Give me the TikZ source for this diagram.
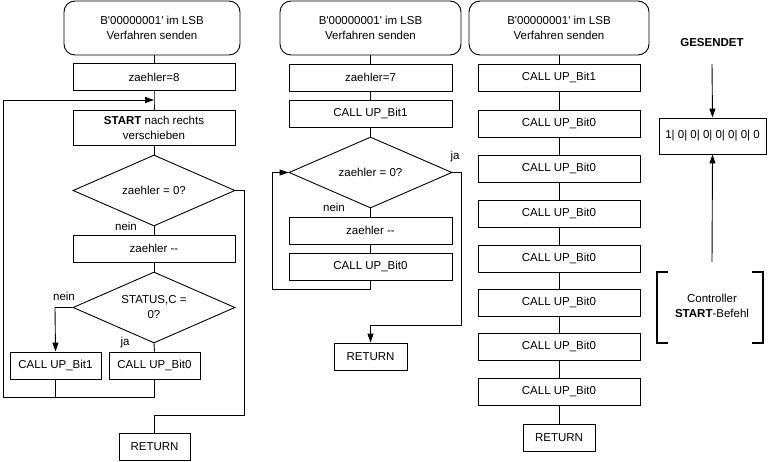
\documentclass[tikz,border=0pt]{standalone}
\usepackage{fontspec}
\setmainfont{Liberation Sans}
\usetikzlibrary{shapes.geometric,arrows.meta}
\begin{document}
\begin{tikzpicture}[x=1pt,y=-1pt,
  every node/.style={font=\fontsize{11.5}{15}\selectfont},
  lw/.style={line width=0.9pt},
  term/.style={draw,lw,rounded corners=11pt,minimum height=54pt,align=center,inner sep=0pt},
  box/.style={draw,lw,minimum width=162pt,minimum height=27pt,align=center,inner sep=0pt},
  dia/.style={draw,lw,diamond,aspect=2.3,minimum width=162pt,minimum height=71pt,align=center,inner sep=0pt},
  lbl/.style={inner sep=0pt},
  conn/.style={lw},
  arr/.style={lw,-{Triangle[length=9pt,width=6pt]}},
  brk/.style={line width=2pt}
]
\useasboundingbox (0,0) rectangle (768,462);

% ---------- column 1 ----------
\node[term,minimum width=176pt] (t1) at (152,28) {B\textquotesingle00000001\textquotesingle\ im LSB\\Verfahren senden};
\node[box] (z8) at (154,77) {zaehler=8};
\node[box,minimum height=35pt] (st) at (154,127.5) {\textbf{START} nach rechts\\verschieben};
\node[dia] (d1) at (154,190.5) {zaehler = 0?};
\node[box] (zm1) at (154,248.5) {zaehler -{}-};
\node[dia] (d2) at (154,307.5) {STATUS,C =\\0?};
\node[box,minimum width=91pt] (b1) at (55.5,365.5) {CALL UP\_Bit1};
\node[box,minimum width=91pt] (b0) at (154.5,365.5) {CALL UP\_Bit0};
\node[box,minimum width=71pt] (r1) at (154.5,446.5) {RETURN};
\node[lbl] (n1) at (126,226) {nein};
\node[lbl] (n2) at (64,296) {nein};
\node[lbl] (j1) at (125,343) {ja};
\coordinate (m1) at (154,100);

\draw[conn] (154,55) -- (z8.north);
\draw[conn] (z8.south) -- (m1) -- (st.north);
\draw[conn] (st.south) -- (d1.north);
\draw[conn] (d1.south) -- (zm1.north);
\draw[conn] (zm1.south) -- (d2.north);
\draw[arr] (d2.west) -- (55,307.5) -- (b1.north);
\draw[conn] (d2.south) -- (b0.north);
\draw[conn] (b1.south) -- (55.5,397);
\draw[arr] (b0.south) -- (154.5,397) -- (3,397) -- (3,100) -- (m1);
\draw[conn] (d1.east) -- (244,190.5) -- (244,415) -- (154.5,415) -- (r1.north);

% ---------- column 2 ----------
\node[term,minimum width=181pt] (t2) at (370.5,28) {B\textquotesingle00000001\textquotesingle\ im LSB\\Verfahren senden};
\node[box,minimum width=163pt] (z7) at (370.5,77.5) {zaehler=7};
\node[box,minimum width=163pt] (c1) at (370.5,113.5) {CALL UP\_Bit1};
\node[dia,minimum width=163pt] (d3) at (370.5,172.5) {zaehler = 0?};
\node[box,minimum width=163pt] (zm2) at (370.5,230.5) {zaehler -{}-};
\node[box,minimum width=163pt] (c0) at (370.5,266.5) {CALL UP\_Bit0};
\node[box,minimum width=73pt] (r2) at (370.5,356.5) {RETURN};
\node[lbl] (j2) at (455,157) {ja};
\node[lbl] (n3) at (334,207) {nein};

\draw[conn] (t2.south) -- (z7.north);
\draw[conn] (z7.south) -- (c1.north);
\draw[conn] (c1.south) -- (d3.north);
\draw[conn] (d3.south) -- (zm2.north);
\draw[conn] (zm2.south) -- (c0.north);
\draw[arr] (c0.south) -- (370.5,289) -- (272,289) -- (272,172.5) -- (d3.west);
\draw[arr] (d3.east) -- (461,172.5) -- (461,325) -- (370.5,325) -- (r2.north);

% ---------- column 3 ----------
\node[term,minimum width=180pt] (t3) at (559,28) {B\textquotesingle00000001\textquotesingle\ im LSB\\Verfahren senden};
\node[box] (k1) at (559,77.5) {CALL UP\_Bit1};
\node[box] (k2) at (559,123.5) {CALL UP\_Bit0};
\node[box] (k3) at (559,168.5) {CALL UP\_Bit0};
\node[box] (k4) at (559,213.5) {CALL UP\_Bit0};
\node[box] (k5) at (559,258.5) {CALL UP\_Bit0};
\node[box] (k6) at (559,302.5) {CALL UP\_Bit0};
\node[box] (k7) at (559,346.5) {CALL UP\_Bit0};
\node[box] (k8) at (559,391.5) {CALL UP\_Bit0};
\node[box,minimum width=72pt] (r3) at (559,437.5) {RETURN};
\draw[conn] (t3.south) -- (k1.north);
\foreach \a/\b in {k1/k2,k2/k3,k3/k4,k4/k5,k5/k6,k6/k7,k7/k8,k8/r3}
  \draw[conn] (\a.south) -- (\b.north);

% ---------- right part ----------
\node[lbl,font=\fontsize{11.5}{15}\selectfont\bfseries] (ges) at (712,43) {GESENDET};
\node[draw,lw,minimum width=107pt,minimum height=36pt,inner sep=0pt] (reg) at (712.5,136) {1| 0| 0| 0| 0| 0| 0| 0};
\coordinate (ga) at (712,64);
\coordinate (cb) at (712,262);
\draw[arr] (ga) -- (reg.north);
\draw[arr] (cb) -- (reg.south);
\node[lbl,align=center] (ctl) at (712,306) {Controller\\\textbf{START}-Befehl};
\draw[brk] (668,272) -- (657,272) -- (657,343) -- (668,343);
\draw[brk] (752,272) -- (763,272) -- (763,343) -- (752,343);
\end{tikzpicture}
\end{document}
